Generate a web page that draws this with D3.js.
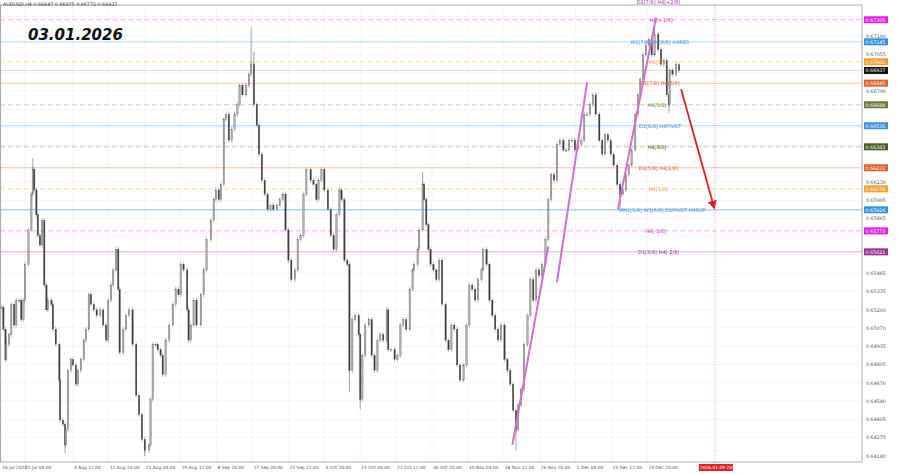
<!DOCTYPE html>
<html>
<head>
<meta charset="utf-8">
<script src="https://cdn.jsdelivr.net/npm/d3@7"></script>
<style>
body { margin: 0; background: #fff; }
svg text { font-family: "DejaVu Sans", sans-serif; }
</style>
</head>
<body>
<svg id="chart" width="900" height="474"></svg>
<script>
// H4 bar number since 16 Jul 2025 and close price
var closes = [
  [0,.6522],[3,.6506],[6,.6484],[7,.6495],[11,.6502],[14,.6524],[18,.6509],[21,.6527],[25,.6527],[28,.6513],
  [31,.6527],[33,.6553],[38,.6578],[42,.6604],[44,.6622],[46,.6607],[49,.6589],[51,.6574],[54,.6567],[57,.6585],
  [60,.6538],[63,.6520],[65,.6527],[70,.6524],[72,.6506],[76,.6495],[81,.6469],[82,.6440],[86,.6437],[89,.6422],
  [90,.6433],[93,.6476],[97,.6484],[100,.6480],[104,.6466],[107,.6476],[111,.6484],[115,.6498],[118,.6506],[122,.6531],
  [125,.6524],[129,.6520],[133,.6516],[138,.6520],[142,.6509],[146,.6498],[149,.6527],[153,.6538],[156,.6549],[160,.6564],
  [163,.6535],[165,.6489],[170,.6506],[174,.6516],[178,.6520],[183,.6495],[188,.6458],[192,.6444],[196,.6426],[200,.6418],
  [206,.6422],[208,.6455],[211,.6495],[215,.6495],[218,.6491],[222,.6487],[225,.6473],[229,.6498],[234,.6509],[239,.6524],
  [243,.6535],[247,.6531],[250,.6553],[254,.6549],[259,.6520],[261,.6498],[264,.6509],[268,.6527],[272,.6509],[278,.6531],
  [282,.6549],[286,.6571],[292,.6585],[296,.6600],[299,.6607],[303,.6600],[306,.6611],[310,.6658],[313,.6662],[317,.6643],
  [321,.6651],[325,.6662],[329,.6669],[332,.6683],[336,.6676],[341,.6683],[345,.6691],[348,.6698],[352,.6669],[356,.6654],
  [359,.6633],[363,.6614],[367,.6604],[371,.6593],[375,.6596],[379,.6593],[384,.6596],[388,.6600],[392,.6604],[396,.6578],
  [400,.6556],[404,.6542],[409,.6549],[413,.6571],[417,.6574],[421,.6604],[425,.6622],[431,.6614],[435,.6611],[439,.6600],
  [442,.6614],[446,.6622],[450,.6607],[455,.6593],[459,.6574],[463,.6564],[467,.6589],[471,.6607],[474,.6600],[478,.6556],
  [482,.6553],[485,.6476],[489,.6513],[493,.6516],[498,.6502],[500,.6455],[503,.6487],[507,.6509],[512,.6513],[516,.6487],
  [520,.6476],[524,.6498],[528,.6502],[532,.6498],[537,.6520],[539,.6491],[543,.6491],[548,.6484],[552,.6487],[556,.6509],
  [560,.6513],[564,.6506],[569,.6535],[573,.6549],[575,.6553],[580,.6564],[582,.6578],[587,.6611],[589,.6600],[592,.6582],
  [595,.6564],[598,.6553],[602,.6549],[606,.6542],[610,.6556],[614,.6524],[619,.6498],[623,.6491],[627,.6509],[631,.6506],
  [635,.6480],[639,.6469],[644,.6480],[648,.6509],[652,.6538],[656,.6535],[660,.6527],[664,.6542],[669,.6549],[671,.6564],
  [676,.6553],[680,.6527],[684,.6516],[688,.6506],[692,.6498],[696,.6509],[701,.6484],[705,.6476],[709,.6466],[713,.6447],
  [717,.6433],[720,.6451],[724,.6462],[728,.6495],[733,.6516],[737,.6542],[741,.6527],[745,.6549],[749,.6545],[753,.6553],
  [758,.6571],[762,.6600],[766,.6618],[770,.6614],[774,.6640],[778,.6643],[783,.6636],[787,.6636],[791,.6643],[795,.6643],
  [799,.6636],[803,.6640],[808,.6643],[812,.6662],[816,.6662],[820,.6669],[824,.6676],[828,.6662],[833,.6643],[837,.6633],
  [841,.6647],[845,.6643],[849,.6633],[853,.6625],[858,.6611],[862,.6604],[866,.6607],[870,.6618],[874,.6625],[878,.6636],
  [883,.6662],[887,.6676],[890,.6687],[894,.6705],[898,.6712],[902,.6716],[906,.6705],[910,.6720],[915,.6709],[919,.6698],
  [923,.6701],[927,.6676],[930,.6669],[931,.6694],[935,.6691],[940,.6698],[944,.66937]
];
// extreme wicks [bar, price]
var spikes = [[44,.6630],[89,.6416],[200,.6414],[348,.6725],[352,.6707],[587,.6620],[717,.6418],[862,.6594],[910,.6731],[930,.6663],[485,.6460],[500,.6448]];

var priceTicks = [.67325,.67190,.67055,.66920,.66790,.66655,.66525,.66395,.66260,.66130,.65995,.65865,.65735,
  .65600,.65465,.65335,.65200,.65070,.64935,.64805,.64670,.64540,.64405,.64275,.64140];
var timeTickBars = [0,33,100,150,200,250,300,350,400,450,500,550,600,650,700,750,800,850,900];
var timeTickLabels = ["16 Jul 2025","25 Jul 04:00","4 Aug 12:00","12 Aug 20:00","21 Aug 04:00","29 Aug 12:00",
  "8 Sep 20:00","17 Sep 04:00","25 Sep 12:00","3 Oct 20:00","14 Oct 04:00","22 Oct 12:00","30 Oct 20:00",
  "10 Nov 04:00","18 Nov 12:00","26 Nov 20:00","5 Dec 04:00","15 Dec 12:00","23 Dec 20:00"];

// levels: price, colour, dashed, label, label bar
var levelPrices = [.67305,.67145,.67000,.66845,.66688,.66536,.66383,.66231,.66078,.65926,.65773,.65621];
var levelColors = ["#e020e0","#3d8fe0","#f0a030","#e06030","#6b7a3a","#3d8fe0","#4d5a2a","#e06030","#f0a030","#3d8fe0","#e020e0","#a0309a"];
var levelDashed = [1,0,1,0,1,0,1,0,1,0,1,0];
var levelLabels = ["H4[+1/8]","W1[7/8] H4[8/8] H4RES","H4[7/8]","D1[7/8] H4[6/8]","H4[5/8]","D1[6/8] H4PIVOT",
  "H4[3/8]","D1[5/8] H4[2/8]","H4[1/8]","MN1[3/8] W1[6/8] D1PIVOT H4SUP","H4[-1/8]","D1[3/8] H4[-2/8]"];
var levelLabelBars = [903,876,902,890,900,888,900,888,902,860,897,887];
var lastPrice = .66937;

// trend lines and forecast arrow [bar0, price0, bar1, price1]
var trendLines = [[712,.6422,762,.6566],[774,.6540,816,.6685],[859,.6593,912,.6732]];
var forecast = [947,.6680,993,.6594];
var futureBar = 994;

const svg = d3.select("#chart");
const W = 862, B = 462;
const x = d3.scaleLinear().domain([0, 1000]).range([1.2, 1.2 + 718]);
const y = d3.scaleLinear().domain([.64096, .67412]).range([B, 5]);

// grid
svg.selectAll(".hg").data(priceTicks).join("line")
  .attr("x1", 0).attr("x2", W).attr("y1", d => y(d)).attr("y2", d => y(d))
  .attr("stroke", "#efefef").attr("stroke-width", 0.6);
svg.selectAll(".vg").data(timeTickBars).join("line")
  .attr("x1", d => x(d)).attr("x2", d => x(d)).attr("y1", 5).attr("y2", B)
  .attr("stroke", "#efefef").attr("stroke-width", 0.6);

// level lines
const lv = levelPrices.map((p, i) => ({p: p, c: levelColors[i], d: levelDashed[i], t: levelLabels[i], b: levelLabelBars[i]}));
svg.selectAll(".lvl").data(lv).join("line")
  .attr("x1", 0).attr("x2", W).attr("y1", d => y(d.p)).attr("y2", d => y(d.p))
  .attr("stroke", d => d.c).attr("stroke-opacity", 0.4).attr("stroke-width", d => d.p == .65926 ? 1.4 : 0.9)
  .attr("stroke-dasharray", d => d.d ? "5,3" : null);
svg.append("line").attr("x1", 0).attr("x2", W).attr("y1", y(lastPrice)).attr("y2", y(lastPrice))
  .attr("stroke", "#c8c8c8").attr("stroke-width", 0.6);

// candles
const bars = closes.map((d, i) => {
  const o = i ? closes[i - 1][1] : d[1];
  return {t: d[0], o: o, c: d[1]};
});
svg.append("g").selectAll("line").data(bars).join("line")
  .attr("x1", d => x(d.t)).attr("x2", d => x(d.t))
  .attr("y1", d => y(Math.max(d.o, d.c)) - 2.5).attr("y2", d => y(Math.min(d.o, d.c)) + 2.5)
  .attr("stroke", "#888").attr("stroke-width", 0.5);
svg.append("g").selectAll("rect").data(bars).join("rect")
  .attr("x", d => x(d.t) - 0.7).attr("width", 1.4)
  .attr("y", d => y(Math.max(d.o, d.c)))
  .attr("height", d => Math.max(1, Math.abs(y(d.o) - y(d.c))))
  .attr("fill", d => d.c >= d.o ? "#b0b0b0" : "#3a3a3a")
  .attr("stroke", "#555").attr("stroke-width", 0.3);
svg.append("g").selectAll("line").data(spikes).join("line")
  .attr("x1", d => x(d[0])).attr("x2", d => x(d[0]))
  .attr("y1", d => y(d[1])).attr("y2", d => y(closes.find(c => c[0] >= d[0])[1]))
  .attr("stroke", "#666").attr("stroke-width", 0.6);

// level labels
svg.selectAll(".ll").data(lv).join("text")
  .attr("x", d => x(d.b)).attr("y", d => y(d.p) + 2)
  .attr("font-size", 5).attr("fill", d => d.c).text(d => d.t);
svg.append("text").attr("x", x(885)).attr("y", 4).attr("font-size", 5).attr("fill", "#a0309a").text("D1[7/8] H4[+2/8]");

// trend lines
svg.selectAll(".tl").data(trendLines).join("line")
  .attr("x1", d => x(d[0])).attr("y1", d => y(d[1])).attr("x2", d => x(d[2])).attr("y2", d => y(d[3]))
  .attr("stroke", "#d070d0").attr("stroke-width", 2);

// future line and arrow
svg.append("line").attr("x1", x(futureBar)).attr("x2", x(futureBar)).attr("y1", 5).attr("y2", B)
  .attr("stroke", "#e08080").attr("stroke-width", 0.6).attr("stroke-dasharray", "1,1");
svg.append("defs").append("marker").attr("id", "ah").attr("viewBox", "0 0 10 10")
  .attr("refX", 8).attr("refY", 5).attr("markerWidth", 5).attr("markerHeight", 5).attr("orient", "auto")
  .append("path").attr("d", "M0,0L10,5L0,10z").attr("fill", "#e02020");
svg.append("line").attr("x1", x(forecast[0])).attr("y1", y(forecast[1])).attr("x2", x(forecast[2])).attr("y2", y(forecast[3]))
  .attr("stroke", "#e02020").attr("stroke-width", 1.8).attr("marker-end", "url(#ah)");

// frame
svg.append("rect").attr("x", 0.5).attr("y", 5).attr("width", W - 0.5).attr("height", B - 5)
  .attr("fill", "none").attr("stroke", "#999").attr("stroke-width", 0.8);

// price axis (skip tick labels hidden by level boxes)
const boxes = lv.map(d => ({p: d.p, c: d.c})).concat([{p: lastPrice, c: "#111"}]);
const freeTicks = priceTicks.filter(t => boxes.every(b => Math.abs(y(b.p) - y(t)) > 6));
svg.selectAll(".pt").data(freeTicks).join("text")
  .attr("x", W + 4).attr("y", d => y(d) + 2).attr("font-size", 4.8).attr("fill", "#555")
  .text(d => d.toFixed(5));
svg.selectAll(".pb").data(boxes).join("rect")
  .attr("x", W + 2).attr("y", d => y(d.p) - 3.5).attr("width", 24).attr("height", 7).attr("fill", d => d.c);
svg.selectAll(".pbt").data(boxes).join("text")
  .attr("x", W + 3.5).attr("y", d => y(d.p) + 1.8).attr("font-size", 4.8).attr("fill", "#fff")
  .text(d => d.p.toFixed(5));

// time axis
svg.selectAll(".tt").data(timeTickBars).join("text")
  .attr("x", (d, i) => i == 1 ? 25 : x(d) + 1).attr("y", B + 7).attr("font-size", 4.4).attr("fill", "#555")
  .text((d, i) => timeTickLabels[i]);
svg.append("rect").attr("x", x(futureBar) - 16).attr("y", B + 2).attr("width", 34).attr("height", 7).attr("fill", "#e02020");
svg.append("text").attr("x", x(futureBar) - 15).attr("y", B + 7.3).attr("font-size", 4.4).attr("fill", "#fff").text("2026.01.09 20:00");

// header
svg.append("text").attr("x", 3).attr("y", 6).attr("font-size", 4.8).attr("fill", "#333")
  .text("AUDUSD,H4 0.66847 0.66975 0.66772 0.66937");
svg.append("text").attr("x", 28).attr("y", 40).attr("font-size", 15).attr("font-style", "italic")
  .attr("font-weight", "bold").attr("fill", "#111").text("03.01.2026");
</script>
</body>
</html>
